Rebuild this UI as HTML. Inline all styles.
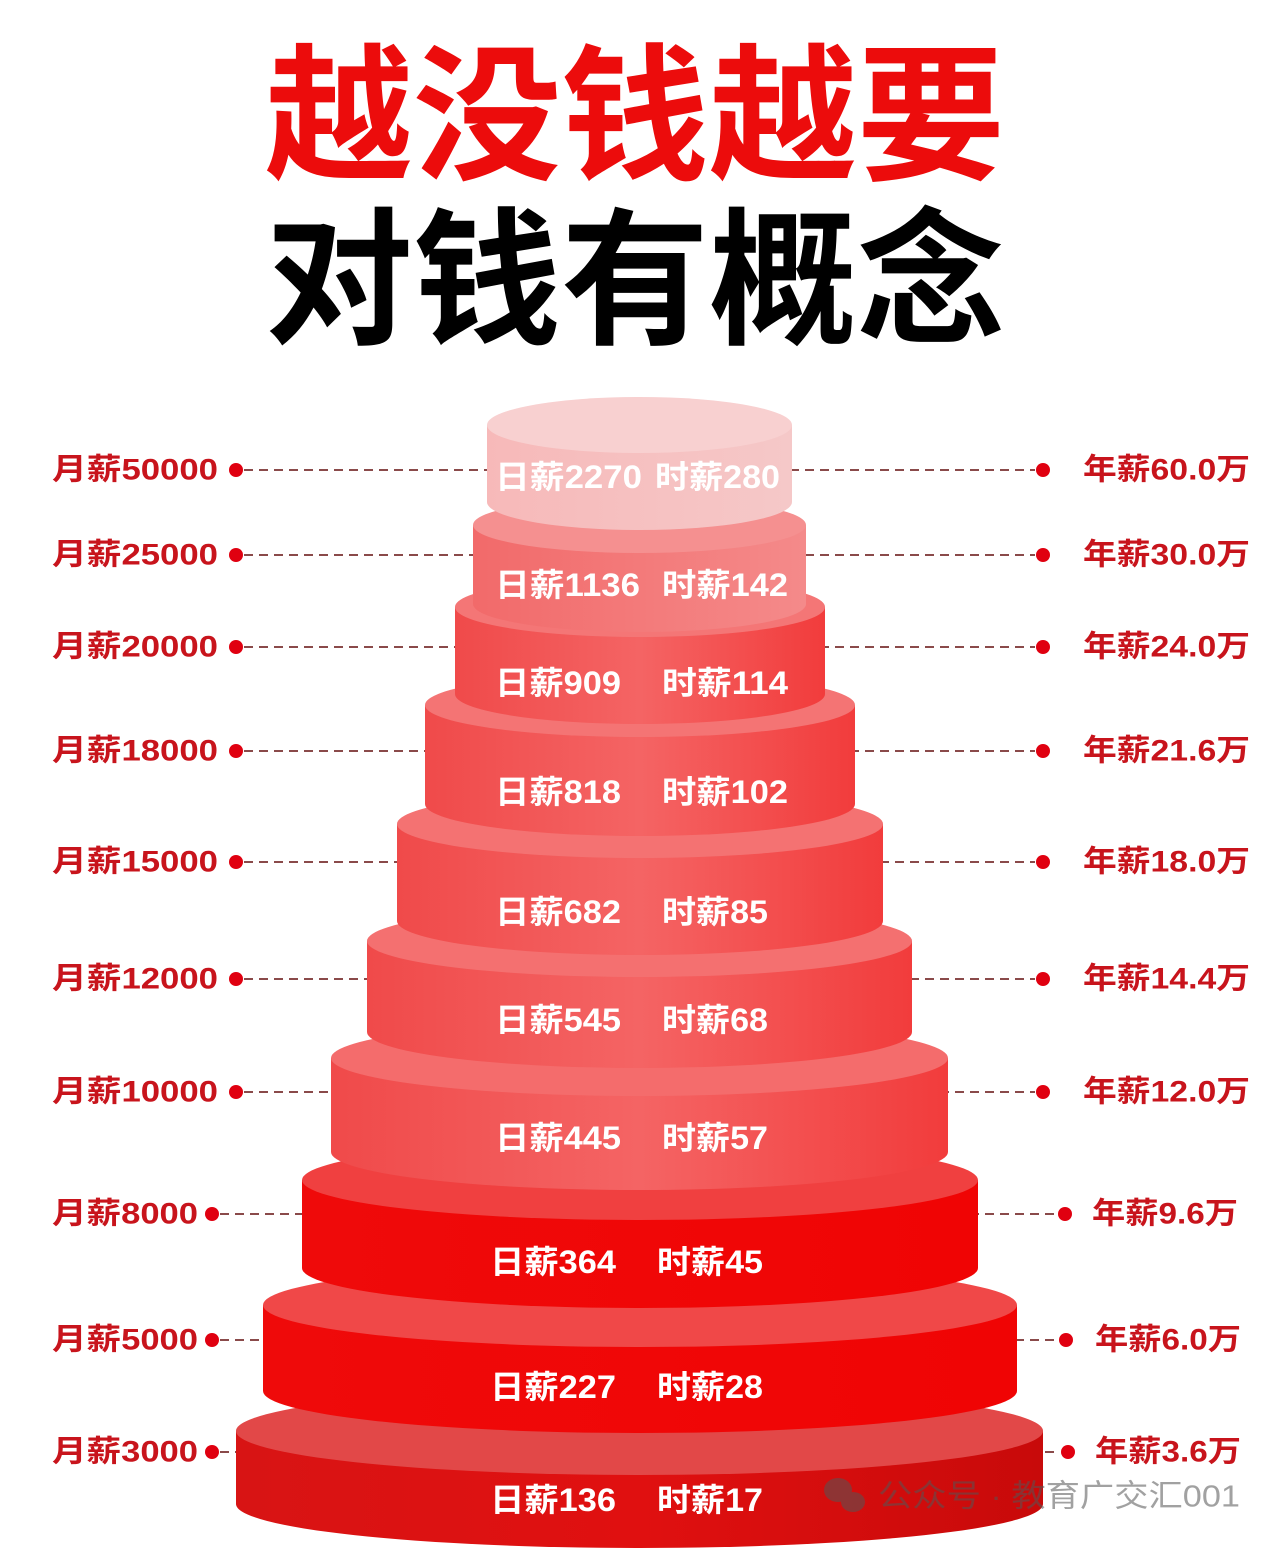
<!DOCTYPE html>
<html><head><meta charset="utf-8"><style>
html,body{margin:0;padding:0;background:#fff;}
svg{display:block;}
text{font-family:"Liberation Sans","Noto Sans CJK SC",sans-serif;}
</style></head><body>
<svg width="1280" height="1553" viewBox="0 0 1280 1553" xmlns="http://www.w3.org/2000/svg">
<defs>
<linearGradient id="g1" x1="0" x2="1"><stop offset="0" stop-color="#f7b9b9"/><stop offset="1" stop-color="#f5c8c8"/></linearGradient>
<linearGradient id="g2" x1="0" x2="1"><stop offset="0" stop-color="#f26a6a"/><stop offset="1" stop-color="#f48a8a"/></linearGradient>
<linearGradient id="g3" x1="0" x2="1"><stop offset="0" stop-color="#f04a4a"/><stop offset="0.5" stop-color="#f46464"/><stop offset="1" stop-color="#f23c3c"/></linearGradient>
<linearGradient id="g8" x1="0" x2="1"><stop offset="0" stop-color="#ef0a0a"/><stop offset="1" stop-color="#f00404"/></linearGradient>
<linearGradient id="g10" x1="0" x2="1"><stop offset="0" stop-color="#d81414"/><stop offset="0.5" stop-color="#e01010"/><stop offset="1" stop-color="#c80a0a"/></linearGradient>
</defs>
<rect width="1280" height="1553" fill="#fff"/>
<text x="265" y="104" dominant-baseline="central" font-size="148" fill="#ec0c0c" textLength="740" lengthAdjust="spacing" style="font-family:'Noto Sans CJK SC',sans-serif;font-weight:700">越没钱越要</text>
<text x="265" y="268" dominant-baseline="central" font-size="148" fill="#000" textLength="740" lengthAdjust="spacing" style="font-family:'Noto Sans CJK SC',sans-serif;font-weight:700">对钱有概念</text>

<g stroke="#8a4a4a" stroke-width="2" stroke-dasharray="9,6">
<line x1="244" y1="470" x2="640" y2="470"/><line x1="640" y1="470" x2="1035" y2="470"/>
<line x1="244" y1="555" x2="640" y2="555"/><line x1="640" y1="555" x2="1035" y2="555"/>
<line x1="244" y1="647" x2="640" y2="647"/><line x1="640" y1="647" x2="1035" y2="647"/>
<line x1="244" y1="751" x2="640" y2="751"/><line x1="640" y1="751" x2="1035" y2="751"/>
<line x1="244" y1="862" x2="640" y2="862"/><line x1="640" y1="862" x2="1035" y2="862"/>
<line x1="244" y1="979" x2="640" y2="979"/><line x1="640" y1="979" x2="1035" y2="979"/>
<line x1="244" y1="1092" x2="640" y2="1092"/><line x1="640" y1="1092" x2="1035" y2="1092"/>
<line x1="220" y1="1214" x2="640" y2="1214"/><line x1="640" y1="1214" x2="1057" y2="1214"/>
<line x1="220" y1="1340" x2="640" y2="1340"/><line x1="640" y1="1340" x2="1058" y2="1340"/>
<line x1="220" y1="1452" x2="640" y2="1452"/><line x1="640" y1="1452" x2="1060" y2="1452"/>
</g>
<g fill="#e00010">
<circle cx="236" cy="470" r="7"/><circle cx="1043" cy="470" r="7"/>
<circle cx="236" cy="555" r="7"/><circle cx="1043" cy="555" r="7"/>
<circle cx="236" cy="647" r="7"/><circle cx="1043" cy="647" r="7"/>
<circle cx="236" cy="751" r="7"/><circle cx="1043" cy="751" r="7"/>
<circle cx="236" cy="862" r="7"/><circle cx="1043" cy="862" r="7"/>
<circle cx="236" cy="979" r="7"/><circle cx="1043" cy="979" r="7"/>
<circle cx="236" cy="1092" r="7"/><circle cx="1043" cy="1092" r="7"/>
<circle cx="212" cy="1214" r="7"/><circle cx="1065" cy="1214" r="7"/>
<circle cx="212" cy="1340" r="7"/><circle cx="1066" cy="1340" r="7"/>
<circle cx="212" cy="1452" r="7"/><circle cx="1068" cy="1452" r="7"/>
</g>

<g>
<rect x="236" y="1431" width="807" height="73" fill="url(#g10)"/><ellipse cx="639.5" cy="1504" rx="403.5" ry="44" fill="url(#g10)"/><ellipse cx="639.5" cy="1431" rx="403.5" ry="44" fill="#e24848"/>
<rect x="263" y="1305" width="754" height="86" fill="url(#g8)"/><ellipse cx="640" cy="1391" rx="377" ry="42" fill="url(#g8)"/><ellipse cx="640" cy="1305" rx="377" ry="42" fill="#f04848"/>
<rect x="302" y="1180" width="676" height="88" fill="url(#g8)"/><ellipse cx="640" cy="1268" rx="338" ry="40" fill="url(#g8)"/><ellipse cx="640" cy="1180" rx="338" ry="40" fill="#f04040"/>
<rect x="331" y="1058" width="617" height="94" fill="url(#g3)"/><ellipse cx="639.5" cy="1152" rx="308.5" ry="38" fill="url(#g3)"/><ellipse cx="639.5" cy="1058" rx="308.5" ry="38" fill="#f46c6c"/>
<rect x="367" y="941" width="545" height="91" fill="url(#g3)"/><ellipse cx="639.5" cy="1032" rx="272.5" ry="36" fill="url(#g3)"/><ellipse cx="639.5" cy="941" rx="272.5" ry="36" fill="#f47070"/>
<rect x="397" y="824" width="486" height="97" fill="url(#g3)"/><ellipse cx="640" cy="921" rx="243" ry="34" fill="url(#g3)"/><ellipse cx="640" cy="824" rx="243" ry="34" fill="#f47272"/>
<rect x="425" y="705" width="430" height="99" fill="url(#g3)"/><ellipse cx="640" cy="804" rx="215" ry="32" fill="url(#g3)"/><ellipse cx="640" cy="705" rx="215" ry="32" fill="#f47474"/>
<rect x="455" y="607" width="370" height="87" fill="url(#g3)"/><ellipse cx="640" cy="694" rx="185" ry="30" fill="url(#g3)"/><ellipse cx="640" cy="607" rx="185" ry="30" fill="#f47676"/>
<rect x="473" y="525" width="333" height="79" fill="url(#g2)"/><ellipse cx="639.5" cy="604" rx="166.5" ry="28" fill="url(#g2)"/><ellipse cx="639.5" cy="525" rx="166.5" ry="28" fill="#f59090"/>
<rect x="487" y="425" width="305" height="77" fill="url(#g1)"/><ellipse cx="639.5" cy="502" rx="152.5" ry="28" fill="url(#g1)"/><ellipse cx="639.5" cy="425" rx="152.5" ry="28" fill="#f8d0d0"/>
</g>

<g fill="#fff" font-size="32" font-weight="bold" dominant-baseline="central">
<text x="495" y="477" textLength="147" lengthAdjust="spacingAndGlyphs">日薪2270</text><text x="655" y="477" textLength="125" lengthAdjust="spacingAndGlyphs">时薪280</text>
<text x="495" y="585" textLength="145" lengthAdjust="spacingAndGlyphs">日薪1136</text><text x="662" y="585" textLength="126" lengthAdjust="spacingAndGlyphs">时薪142</text>
<text x="495" y="683" textLength="126" lengthAdjust="spacingAndGlyphs">日薪909</text><text x="662" y="683" textLength="126" lengthAdjust="spacingAndGlyphs">时薪114</text>
<text x="495" y="792" textLength="126" lengthAdjust="spacingAndGlyphs">日薪818</text><text x="662" y="792" textLength="126" lengthAdjust="spacingAndGlyphs">时薪102</text>
<text x="495" y="912" textLength="126" lengthAdjust="spacingAndGlyphs">日薪682</text><text x="662" y="912" textLength="106" lengthAdjust="spacingAndGlyphs">时薪85</text>
<text x="495" y="1020" textLength="126" lengthAdjust="spacingAndGlyphs">日薪545</text><text x="662" y="1020" textLength="106" lengthAdjust="spacingAndGlyphs">时薪68</text>
<text x="495" y="1138" textLength="126" lengthAdjust="spacingAndGlyphs">日薪445</text><text x="662" y="1138" textLength="106" lengthAdjust="spacingAndGlyphs">时薪57</text>
<text x="490" y="1262" textLength="126" lengthAdjust="spacingAndGlyphs">日薪364</text><text x="657" y="1262" textLength="106" lengthAdjust="spacingAndGlyphs">时薪45</text>
<text x="490" y="1387" textLength="126" lengthAdjust="spacingAndGlyphs">日薪227</text><text x="657" y="1387" textLength="106" lengthAdjust="spacingAndGlyphs">时薪28</text>
<text x="490" y="1500" textLength="126" lengthAdjust="spacingAndGlyphs">日薪136</text><text x="657" y="1500" textLength="106" lengthAdjust="spacingAndGlyphs">时薪17</text>
</g>

<g fill="#c8141c" font-size="30" font-weight="bold" dominant-baseline="central">
<text x="52" y="470" textLength="166" lengthAdjust="spacingAndGlyphs">月薪50000</text>
<text x="52" y="555" textLength="166" lengthAdjust="spacingAndGlyphs">月薪25000</text>
<text x="52" y="647" textLength="166" lengthAdjust="spacingAndGlyphs">月薪20000</text>
<text x="52" y="751" textLength="166" lengthAdjust="spacingAndGlyphs">月薪18000</text>
<text x="52" y="862" textLength="166" lengthAdjust="spacingAndGlyphs">月薪15000</text>
<text x="52" y="979" textLength="166" lengthAdjust="spacingAndGlyphs">月薪12000</text>
<text x="52" y="1092" textLength="166" lengthAdjust="spacingAndGlyphs">月薪10000</text>
<text x="52" y="1214" textLength="146" lengthAdjust="spacingAndGlyphs">月薪8000</text>
<text x="52" y="1340" textLength="146" lengthAdjust="spacingAndGlyphs">月薪5000</text>
<text x="52" y="1452" textLength="146" lengthAdjust="spacingAndGlyphs">月薪3000</text>
<text x="1083" y="470" textLength="167" lengthAdjust="spacingAndGlyphs">年薪60.0万</text>
<text x="1083" y="555" textLength="167" lengthAdjust="spacingAndGlyphs">年薪30.0万</text>
<text x="1083" y="647" textLength="167" lengthAdjust="spacingAndGlyphs">年薪24.0万</text>
<text x="1083" y="751" textLength="167" lengthAdjust="spacingAndGlyphs">年薪21.6万</text>
<text x="1083" y="862" textLength="167" lengthAdjust="spacingAndGlyphs">年薪18.0万</text>
<text x="1083" y="979" textLength="167" lengthAdjust="spacingAndGlyphs">年薪14.4万</text>
<text x="1083" y="1092" textLength="167" lengthAdjust="spacingAndGlyphs">年薪12.0万</text>
<text x="1092" y="1214" textLength="146" lengthAdjust="spacingAndGlyphs">年薪9.6万</text>
<text x="1095" y="1340" textLength="146" lengthAdjust="spacingAndGlyphs">年薪6.0万</text>
<text x="1095" y="1452" textLength="146" lengthAdjust="spacingAndGlyphs">年薪3.6万</text>
</g>

<g opacity="0.55" fill="#555">
<ellipse cx="838" cy="1490" rx="14" ry="12"/>
<ellipse cx="853" cy="1502" rx="12" ry="10"/>
<text x="878" y="1496" font-size="31" dominant-baseline="central" textLength="362" lengthAdjust="spacingAndGlyphs">公众号 · 教育广交汇001</text>
</g>
</svg>
</body></html>
